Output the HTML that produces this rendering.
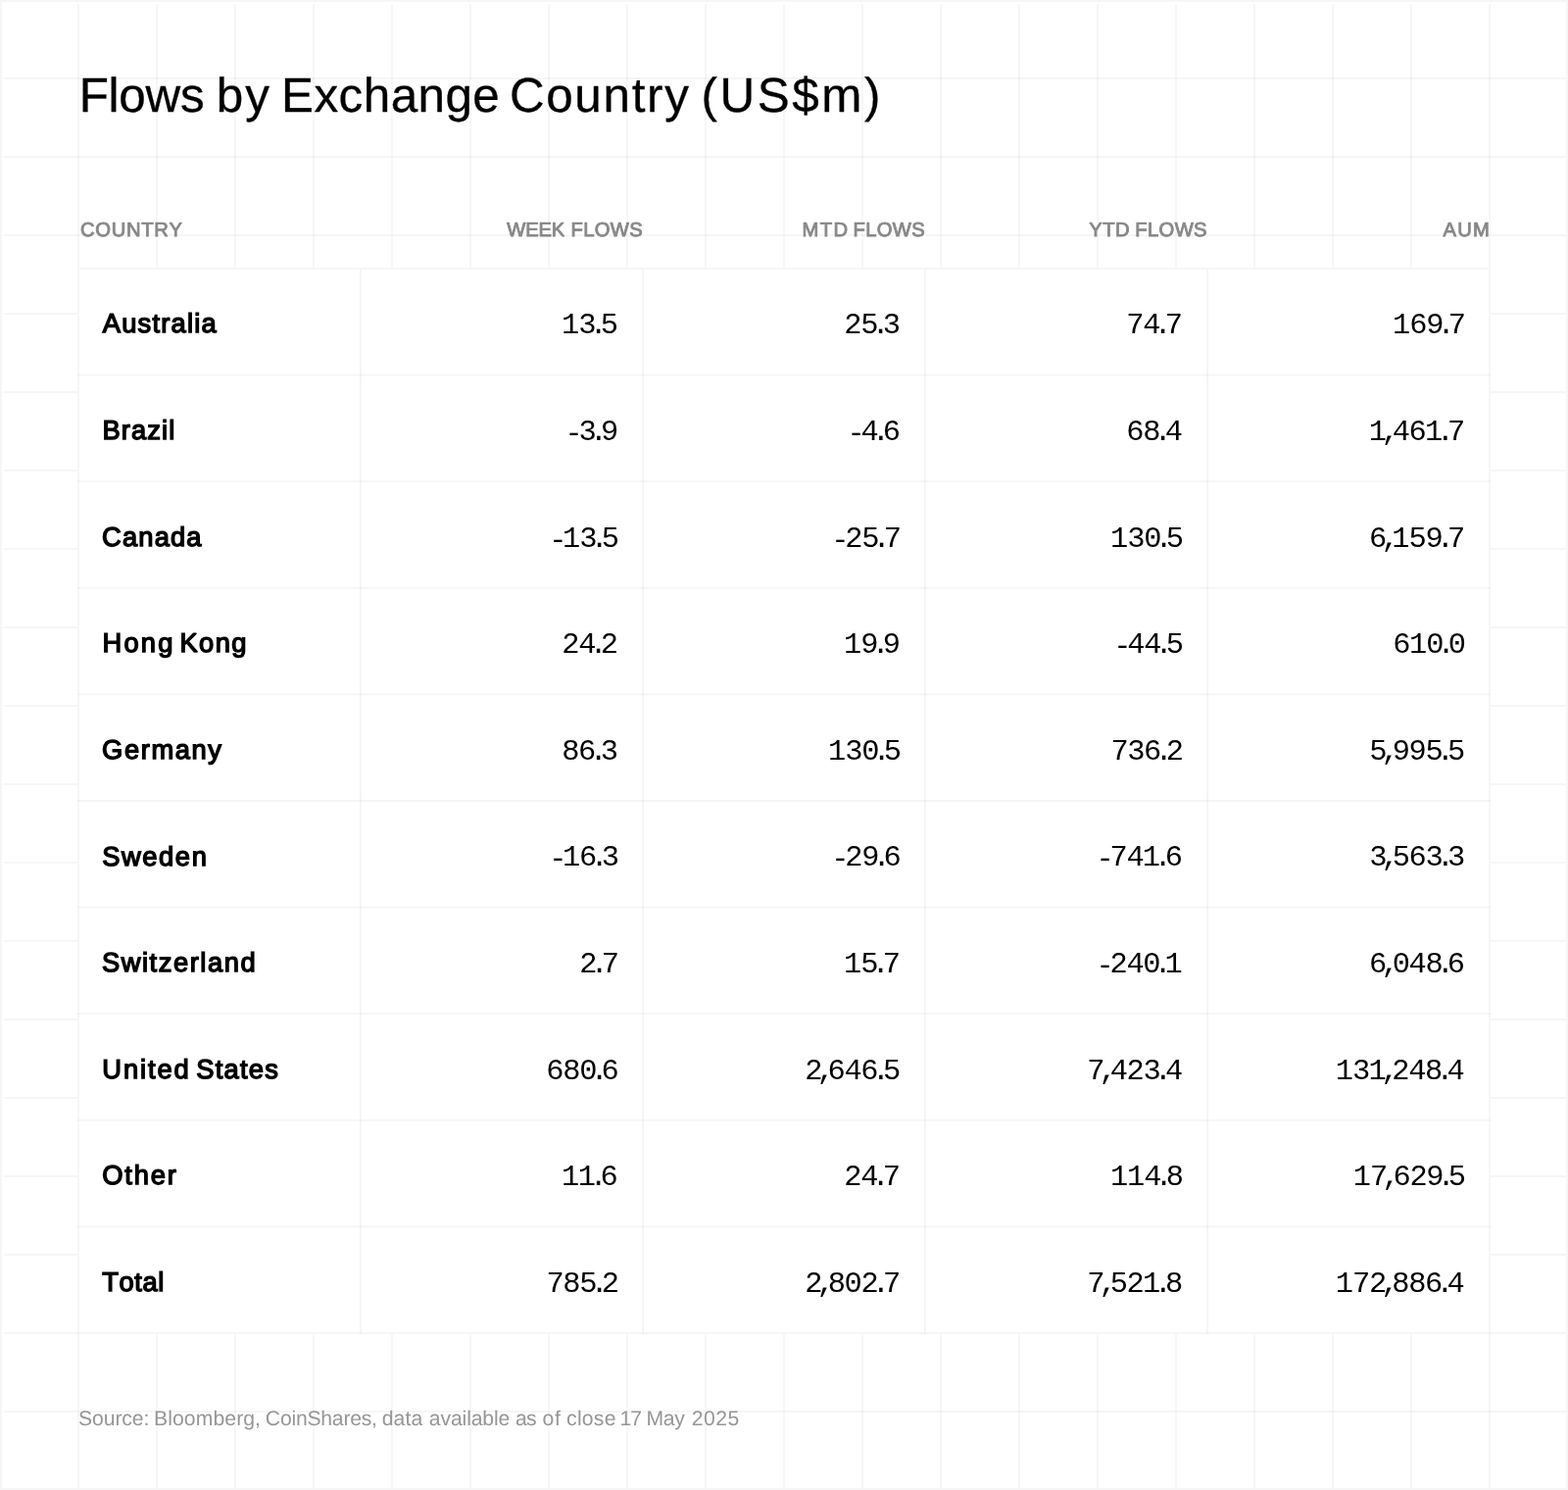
<!DOCTYPE html>
<html lang="en">
<head>
<meta charset="utf-8">
<title>Flows by Exchange Country (US$m)</title>
<style>
html,body{margin:0;padding:0}
body{width:1600px;height:1520px;position:relative;overflow:hidden;background:#fff;
  font-family:"Liberation Sans",Arial,Helvetica,sans-serif;color:#000}
.frame{position:absolute;left:0;top:0;width:1596px;height:1516px;border:2px solid rgba(0,0,0,0.037)}
.grid{position:absolute;left:4px;top:4px;width:1594px;height:1514px;
  background-image:linear-gradient(to right,rgba(0,0,0,0.037) 2px,transparent 2px),linear-gradient(to bottom,rgba(0,0,0,0.037) 2px,transparent 2px);
  background-size:80px 80px;background-position:75px 75px}
svg.sheet{position:absolute;left:0;top:0;width:1600px;height:1520px;overflow:visible}
svg.sheet text{font-family:"Liberation Sans",Arial,Helvetica,sans-serif;font-weight:400;white-space:pre;text-rendering:geometricPrecision}
.title{font-size:49.4px;fill:#000;font-weight:400;stroke:#000;stroke-width:0.3px;stroke-linejoin:miter;stroke-miterlimit:2}
.th{font-size:20.2px;fill:#888;font-weight:400;stroke:#888;stroke-width:0.9px;stroke-linejoin:miter;stroke-miterlimit:2}
.tn{font-size:27.3px;fill:#000;font-weight:400;stroke:#000;stroke-width:1.4px;stroke-linejoin:miter;stroke-miterlimit:2}
svg.sheet text.td{font-family:"Liberation Mono","DejaVu Sans Mono",monospace;font-size:30.4px;fill:#000;text-rendering:auto}
.src{font-size:21.2px;fill:#969696}
.cell{fill:#fff}
.ln{fill:rgba(0,0,0,0.037)}
</style>
</head>
<body>
<div class="frame"></div>
<div class="grid"></div>
<svg class="sheet" viewBox="0 0 1600 1520" width="1600" height="1520">
<text class="title" x="80.7 110.61 121.32 148.53 183.93 208.63 220.67 250.15 274.85 287.1 320.48 345.61 370.74 398.65 426.56 454.46 482.37 509.85 519.89 557.23 586.37 615.51 644.64 660.03 678.15 702.85 715.59 734.59 772.82 808.33 838.36 882.06" y="114">Flows by Exchange Country (US$m)</text>
<g class="head">
<text class="th" x="82.02 97.28 113.66 128.91 144.16 157.17 172.42" y="241">COUNTRY</text>
<text class="th" x="517.36 536.24 549.52 562.8 576.28 582.59 595.25 606.8 622.82 642.2" y="241">WEEK FLOWS</text>
<text class="th" x="818.49 836.7 850.43 865.02 870.59 883.25 894.8 910.82 930.2" y="241">MTD FLOWS</text>
<text class="th" x="1111.31 1125.18 1137.93 1152.52 1158.29 1171 1182.6 1198.67 1218.1" y="241">YTD FLOWS</text>
<text class="th" x="1472.61 1487.24 1502.98" y="241">AUM</text>
</g>
<g class="body">
<rect class="cell" x="79" y="273" width="1442" height="1088"/>
<rect class="ln" x="79" y="273" width="1442" height="2"/>
<rect class="ln" x="79" y="381.6" width="1442" height="2"/>
<rect class="ln" x="79" y="490.2" width="1442" height="2"/>
<rect class="ln" x="79" y="598.8" width="1442" height="2"/>
<rect class="ln" x="79" y="707.4" width="1442" height="2"/>
<rect class="ln" x="79" y="816" width="1442" height="2"/>
<rect class="ln" x="79" y="924.6" width="1442" height="2"/>
<rect class="ln" x="79" y="1033.2" width="1442" height="2"/>
<rect class="ln" x="79" y="1141.8" width="1442" height="2"/>
<rect class="ln" x="79" y="1250.4" width="1442" height="2"/>
<rect class="ln" x="79" y="1359" width="1442" height="2"/>
<rect class="ln" x="79" y="275" width="2" height="1086"/>
<rect class="ln" x="367" y="275" width="2" height="1086"/>
<rect class="ln" x="655" y="275" width="2" height="1086"/>
<rect class="ln" x="943" y="275" width="2" height="1086"/>
<rect class="ln" x="1231" y="275" width="2" height="1086"/>
<rect class="ln" x="1519" y="275" width="2" height="1086"/>
<g class="row">
<text class="tn" x="104.75 124.16 140.55 155.4 164.19 174.49 190.88 198.15 205.42" y="339">Australia</text>
<text class="td" x="572.91 590.14 601.42 612.69" y="340">13.5</text>
<text class="td" x="861.29 878.14 889.42 900.69" y="340">25.3</text>
<text class="td" x="1149.29 1166.14 1177.42 1188.69" y="340">74.7</text>
<text class="td" x="1421.06 1438.14 1455.14 1466.42 1477.69" y="340">169.7</text>
</g>
<g class="row">
<text class="tn" x="104.46 123.8 134.02 150.33 165.12 172.31" y="448">Brazil</text>
<text class="td" x="576.39 590.39 601.67 612.94" y="451 449 449 449">-3.9</text>
<text class="td" x="864.39 878.39 889.67 900.79" y="451 449 449 449">-4.6</text>
<text class="td" x="1149.14 1166.14 1177.42 1188.69" y="449">68.4</text>
<text class="td" x="1396.85 1409.5 1420.68 1437.38 1454 1465.66 1476.93" y="449">1,461.7</text>
</g>
<g class="row">
<text class="tn" x="104.06 124.95 141.3 157.66 174.01 190.37" y="557">Canada</text>
<text class="td" x="560.29 573.91 591.14 602.42 613.69" y="560 558 558 558 558">-13.5</text>
<text class="td" x="848.29 862.29 879.14 890.42 901.69" y="560 558 558 558 558">-25.7</text>
<text class="td" x="1133.06 1150.29 1167.14 1178.42 1189.69" y="558">130.5</text>
<text class="td" x="1397.08 1409.5 1420.3 1437.53 1454.38 1465.66 1476.93" y="558">6,159.7</text>
</g>
<g class="row">
<text class="tn" x="104.46 126.42 143.85 161.28 176.46 183.46 203.08 219.68 236.28" y="665">Hong Kong</text>
<text class="td" x="573.29 590.14 601.42 612.69" y="666">24.2</text>
<text class="td" x="860.91 878.14 889.42 900.69" y="666">19.9</text>
<text class="td" x="1136.29 1150.29 1167.14 1178.42 1189.69" y="668 666 666 666 666">-44.5</text>
<text class="td" x="1421.29 1437.91 1455.14 1466.42 1477.69" y="666">610.0</text>
</g>
<g class="row">
<text class="tn" x="104.08 126.91 143.7 154.39 178.73 195.52 212.3" y="774">Germany</text>
<text class="td" x="573.29 589.99 601.42 612.69" y="775">86.3</text>
<text class="td" x="845.06 862.29 879.14 890.42 901.69" y="775">130.5</text>
<text class="td" x="1133.44 1150.29 1166.99 1178.42 1189.69" y="775">736.2</text>
<text class="td" x="1397.23 1409.5 1420.68 1437.53 1454.38 1465.66 1476.93" y="775">5,995.5</text>
</g>
<g class="row">
<text class="tn" x="104.21 124.01 145.32 162.09 178.87 195.64" y="883">Sweden</text>
<text class="td" x="560.29 573.91 590.99 602.42 613.69" y="885 883 883 883 883">-16.3</text>
<text class="td" x="848.29 862.29 879.14 890.42 901.54" y="885 883 883 883 883">-29.6</text>
<text class="td" x="1118.54 1132.54 1149.39 1165.86 1177.52 1188.64" y="885 883 883 883 883 883">-741.6</text>
<text class="td" x="1397.23 1409.5 1420.68 1437.38 1454.38 1465.66 1476.93" y="883">3,563.3</text>
</g>
<g class="row">
<text class="tn" x="103.96 123.72 144.98 152.6 161.73 176.93 193.66 204.3 211.91 228.64 245.38" y="991">Switzerland</text>
<text class="td" x="591.24 602.52 613.79" y="992">2.7</text>
<text class="td" x="860.91 878.14 889.42 900.69" y="992">15.7</text>
<text class="td" x="1118.54 1132.54 1149.39 1166.24 1177.52 1188.41" y="994 992 992 992 992 992">-240.1</text>
<text class="td" x="1397.08 1409.5 1420.68 1437.53 1454.38 1465.66 1476.78" y="992">6,048.6</text>
</g>
<g class="row">
<text class="tn" x="104.34 125.94 143 150.95 160.41 177.48 192.66 200.21 219.66 228.48 244.9 253.72 270.14" y="1100">United States</text>
<text class="td" x="557.29 574.29 591.14 602.42 613.54" y="1101">680.6</text>
<text class="td" x="821.23 833.5 844.53 861.53 878.23 889.66 900.93" y="1101">2,646.5</text>
<text class="td" x="1109.23 1121.5 1132.68 1149.53 1166.38 1177.66 1188.93" y="1101">7,423.4</text>
<text class="td" x="1362.81 1380.04 1396.51 1409.16 1420.34 1437.19 1454.04 1465.32 1476.59" y="1101">131,248.4</text>
</g>
<g class="row">
<text class="tn" x="104.16 127.22 136.64 153.65 170.66" y="1208">Other</text>
<text class="td" x="572.91 589.76 601.42 612.54" y="1209">11.6</text>
<text class="td" x="861.29 878.14 889.42 900.69" y="1209">24.7</text>
<text class="td" x="1133.06 1149.91 1167.14 1178.42 1189.69" y="1209">114.8</text>
<text class="td" x="1380.86 1398.09 1410.36 1421.39 1438.39 1455.24 1466.52 1477.79" y="1209">17,629.5</text>
</g>
<g class="row">
<text class="tn" x="104.19 121.49 137.29 145.5 161.31" y="1317">Total</text>
<text class="td" x="557.44 574.29 591.14 602.42 613.69" y="1318">785.2</text>
<text class="td" x="821.23 833.5 844.68 861.53 878.38 889.66 900.93" y="1318">2,802.7</text>
<text class="td" x="1109.23 1121.5 1132.68 1149.53 1166 1177.66 1188.93" y="1318">7,521.8</text>
<text class="td" x="1362.81 1380.04 1396.89 1409.16 1420.34 1437.19 1453.89 1465.32 1476.59" y="1318">172,886.4</text>
</g>
</g>
<text class="src" x="80.04 94.05 105.71 117.38 124.31 134.78 146.45 152.34 157.01 171.22 175.99 187.85 199.7 217.43 229.28 241.14 248.26 260.11 266 270.82 285.89 297.43 301.89 313.43 327.32 338.87 350.41 357.22 368.76 379.11 385 389.71 401.59 413.48 419.46 431.25 437.85 449.49 459.94 471.58 476.15 480.71 492.35 503.99 508.55 520.34 526 537.07 547.67 553.51 565.98 571.87 578.1 588.91 593.84 605.84 616.65 628.44 632.52 643.25 655.04 659.51 676.79 688.19 698.79 705.83 718.09 730.34 742.6" y="1454">Source: Bloomberg, CoinShares, data available as of close 17 May 2025</text>
</svg>
</body>
</html>
